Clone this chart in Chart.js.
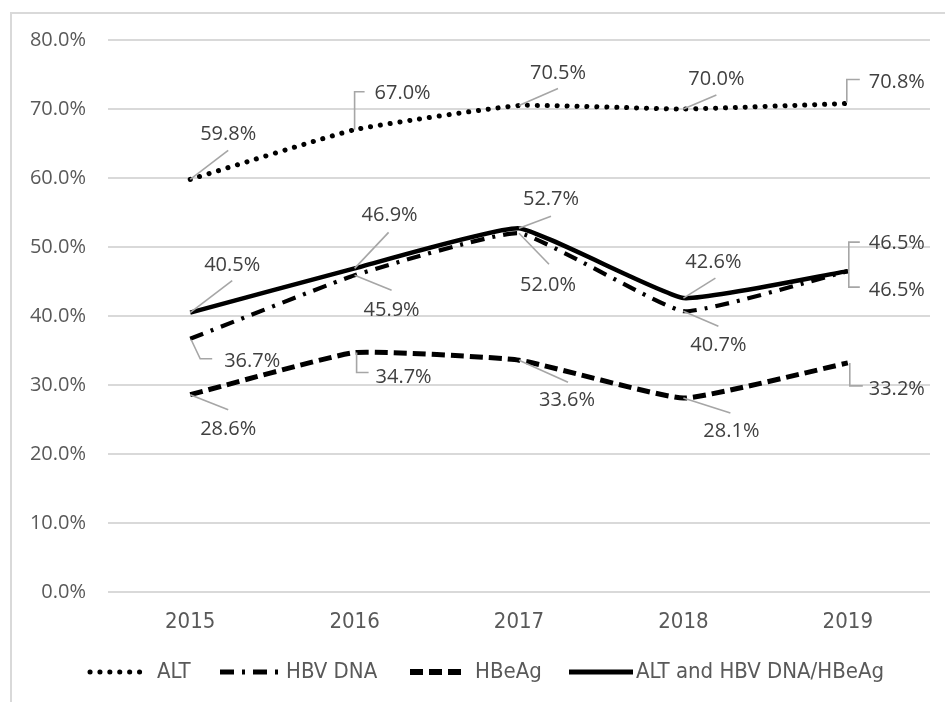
<!DOCTYPE html>
<html><head><meta charset="utf-8">
<script src="https://cdn.jsdelivr.net/npm/chart.js@4.4.1/dist/chart.umd.min.js"></script>
<style>html,body{margin:0;padding:0;background:#fff;} canvas{display:block;}</style>
</head><body>
<canvas id="c" width="945" height="702"></canvas>
<script>
// ---- data ----
const years = ['2015', '2016', '2017', '2018', '2019'];
const altValues = [59.8, 67.0, 70.5, 70.0, 70.8];
const hbvDnaValues = [36.7, 45.9, 52.0, 40.7, 46.5];
const hbeagValues = [28.6, 34.7, 33.6, 28.1, 33.2];
const combinedValues = [40.5, 46.9, 52.7, 42.6, 46.5];
const seriesNames = ['ALT', 'HBV DNA', 'HBeAg', 'ALT and HBV DNA/HBeAg'];
const yMin = 0, yMax = 80, yStep = 10;

// ---- styling ----
const NARROW = '"Liberation Sans Narrow", "DejaVu Sans Condensed", sans-serif';
const SANS = '"Open Sans", "DejaVu Sans", sans-serif';

// label placement relative to each point: t = text centre offset, p = leader polyline offsets
const labelLayouts = [
  [ {t:[38,-45], p:[[0,0],[38,-29]]},
    {t:[48,-36], p:[[0,0],[0,-38],[10,-38]]},
    {t:[39,-32], p:[[0,0],[39,-17]]},
    {t:[33,-30], p:[[0,0],[33,-14]]},
    {t:[49,-21], p:[[-1,-1],[-1,-24],[12,-24]]} ],
  [ {t:[62,23], p:[[1,1],[10,20],[22,20]]},
    {t:[37,35], p:[[0,0],[37,15]]},
    {t:[29,52], p:[[0,0],[30,31]]},
    {t:[35,34], p:[[0,0],[35,15]]},
    {t:[49,19], p:[[1,0],[1,16],[12,16]]} ],
  [ {t:[38,35], p:[[0,0],[38,15]]},
    {t:[49,25], p:[[2,0],[2,20],[14,20]]},
    {t:[48,40], p:[[0,0],[49,22]]},
    {t:[48,33], p:[[0,0],[47,15]]},
    {t:[49,26], p:[[2,0],[2,23],[15,23]]} ],
  [ {t:[42,-47], p:[[0,0],[42,-32]]},
    {t:[35,-53], p:[[0,0],[34,-36]]},
    {t:[32,-29], p:[[0,0],[32,-12]]},
    {t:[30,-36], p:[[0,0],[32,-20]]},
    {t:[49,-28], p:[[1,0],[1,-29],[12,-29]]} ]
];

const legendLayout = [
  {x0:90, x1:142, tx:157, w:5},
  {x0:220, x1:280, tx:286, w:5},
  {x0:410, x1:464, tx:475, w:6},
  {x0:569, x1:633, tx:636, w:5}
];

const common = {pointRadius:0, pointHoverRadius:0, fill:false, borderColor:'#000', backgroundColor:'#000', tension:0.12};
const datasets = [
  Object.assign({label:seriesNames[0], data:altValues, borderWidth:5, borderDash:[0.1,9.8], borderCapStyle:'round', order:3}, common),
  Object.assign({label:seriesNames[1], data:hbvDnaValues, borderWidth:4.2, borderDash:[14,8,3,8], borderCapStyle:'butt', order:2}, common),
  Object.assign({label:seriesNames[2], data:hbeagValues, borderWidth:5, borderDash:[13,6], borderCapStyle:'butt', order:1}, common),
  Object.assign({label:seriesNames[3], data:combinedValues, borderWidth:4.5, borderDash:[], borderCapStyle:'butt', order:0}, common)
];

const framePlugin = {
  id:'frame',
  beforeDraw(chart){
    const ctx = chart.ctx;
    ctx.save();
    ctx.fillStyle = '#fff';
    ctx.fillRect(0,0,chart.width,chart.height);
    ctx.strokeStyle = '#d9d9d9';
    ctx.lineWidth = 2;
    ctx.beginPath();
    ctx.moveTo(11, chart.height);
    ctx.lineTo(11, 13);
    ctx.lineTo(chart.width, 13);
    ctx.stroke();
    ctx.restore();
  }
};

const labelPlugin = {
  id:'dataLabels',
  afterDatasetsDraw(chart){
    const ctx = chart.ctx;
    ctx.save();
    chart.data.datasets.forEach((ds, di) => {
      const meta = chart.getDatasetMeta(di);
      meta.data.forEach((pt, i) => {
        const lay = labelLayouts[di][i];
        ctx.strokeStyle = '#a6a6a6';
        ctx.lineWidth = 1.6;
        ctx.setLineDash([]);
        ctx.beginPath();
        lay.p.forEach((o, k) => {
          if (k === 0) ctx.moveTo(pt.x + o[0], pt.y + o[1]);
          else ctx.lineTo(pt.x + o[0], pt.y + o[1]);
        });
        ctx.stroke();
        ctx.fillStyle = '#404040';
        ctx.font = '20px ' + SANS;
        ctx.textAlign = 'center';
        ctx.textBaseline = 'middle';
        ctx.fillText(ds.data[i].toFixed(1) + '%', pt.x + lay.t[0], pt.y + lay.t[1]);
      });
    });
    ctx.restore();
  }
};

const legendPlugin = {
  id:'customLegend',
  afterDraw(chart){
    const ctx = chart.ctx;
    const y = 672;
    ctx.save();
    chart.data.datasets.forEach((ds, di) => {
      const L = legendLayout[di];
      ctx.strokeStyle = ds.borderColor;
      ctx.lineWidth = L.w;
      ctx.lineCap = ds.borderCapStyle;
      ctx.setLineDash(ds.borderDash);
      ctx.beginPath();
      ctx.moveTo(L.x0, y);
      ctx.lineTo(L.x1, y);
      ctx.stroke();
      ctx.setLineDash([]);
      ctx.fillStyle = '#595959';
      ctx.font = '22px ' + NARROW;
      ctx.textAlign = 'left';
      ctx.textBaseline = 'middle';
      ctx.fillText(ds.label, L.tx, y);
    });
    ctx.restore();
  }
};

new Chart(document.getElementById('c'), {
  type:'line',
  data:{labels:years, datasets:datasets},
  options:{
    responsive:false,
    animation:false,
    devicePixelRatio:1,
    layout:{padding:{top:40, right:15, left:0, bottom:0}},
    plugins:{legend:{display:false}, tooltip:{enabled:false}},
    scales:{
      x:{
        offset:true,
        grid:{display:false, drawTicks:false},
        border:{display:false},
        ticks:{color:'#595959', font:{family:NARROW, size:22}, padding:17, maxRotation:0},
        afterFit(s){ s.height = 110; }
      },
      y:{
        min:yMin, max:yMax,
        grid:{color:'#d9d9d9', lineWidth:2, drawTicks:false},
        border:{display:false},
        ticks:{stepSize:yStep, color:'#595959', font:{family:SANS, size:20}, padding:22,
               callback:(v)=> v.toFixed(1) + '%'},
        afterFit(s){ s.width = 108; }
      }
    }
  },
  plugins:[framePlugin, labelPlugin, legendPlugin]
});
</script>
</body></html>
